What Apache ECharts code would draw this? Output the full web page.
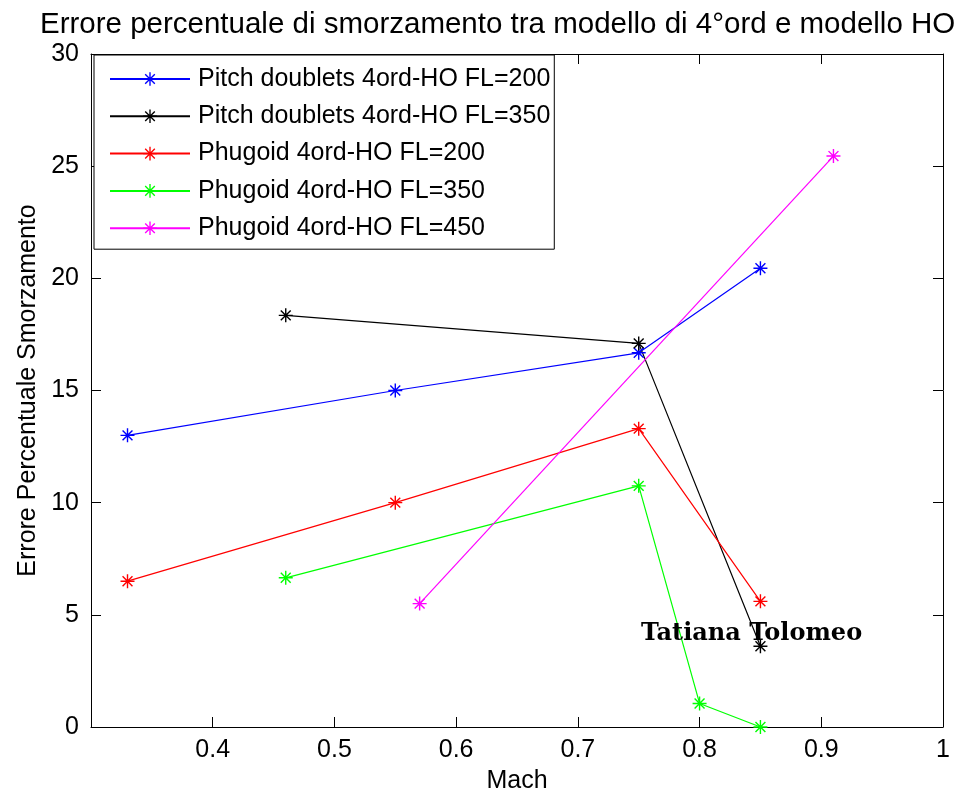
<!DOCTYPE html>
<html>
<head>
<meta charset="utf-8">
<script src="https://cdn.jsdelivr.net/npm/echarts@6/dist/echarts.min.js"></script>
<style>
  html, body { margin: 0; padding: 0; background: #fff; }
  #chart { width: 972px; height: 796px; }
</style>
</head>
<body>
<div id="chart"></div>
<script>
// Mach axis and error axis ranges / ticks
const machRange = [0.3, 1.0];
const machStep = 0.1;
const errRange = [0, 30];
const errStep = 5;

// Series names
const seriesNames = [
  'Pitch doublets 4ord-HO FL=200',
  'Pitch doublets 4ord-HO FL=350',
  'Phugoid 4ord-HO FL=200',
  'Phugoid 4ord-HO FL=350',
  'Phugoid 4ord-HO FL=450'
];
const seriesColors = ['#0000ff', '#000000', '#ff0000', '#00ff00', '#ff00ff'];

// Mach values and percent damping error per series
const pitch200Mach = [0.33, 0.55, 0.75, 0.85];
const pitch200Err  = [13.0, 15.0, 16.68, 20.45];

const pitch350Mach = [0.46, 0.75, 0.85];
const pitch350Err  = [18.35, 17.1, 3.6];

const phug200Mach = [0.33, 0.55, 0.75, 0.85];
const phug200Err  = [6.5, 10.0, 13.3, 5.6];

const phug350Mach = [0.46, 0.75, 0.80, 0.85];
const phug350Err  = [6.65, 10.75, 1.05, 0.0];

const phug450Mach = [0.57, 0.91];
const phug450Err  = [5.5, 25.45];

const machSets = [pitch200Mach, pitch350Mach, phug200Mach, phug350Mach, phug450Mach];
const errSets  = [pitch200Err, pitch350Err, phug200Err, phug350Err, phug450Err];

// Asterisk marker ("*"): four thin bars crossing at the centre
const asterisk = 'path://' +
  'M-1 -10L1 -10L1 10L-1 10Z' +
  'M-10 -1L10 -1L10 1L-10 1Z' +
  'M-6.36 -7.78L7.78 6.36L6.36 7.78L-7.78 -6.36Z' +
  'M7.78 -6.36L-6.36 7.78L-7.78 6.36L6.36 -7.78Z';

const FONT = "'Liberation Sans', Arial, Helvetica, sans-serif";

const series = seriesNames.map((name, i) => ({
  name: name,
  type: 'line',
  data: machSets[i].map((m, j) => [m, errSets[i][j]]),
  symbol: asterisk,
  symbolSize: 14,
  showSymbol: true,
  clip: false,
  color: seriesColors[i],
  lineStyle: { width: 1.2, color: seriesColors[i] },
  itemStyle: { color: seriesColors[i] },
  emphasis: { disabled: true },
  animation: false
}));

const machLabel = v => (Math.abs(v - machRange[0]) < 1e-9 ? '' : String(+v.toFixed(1)));

const baseAxis = {
  axisLine: { show: true, onZero: false, lineStyle: { color: '#000', width: 1 } },
  axisTick: { show: true, inside: true, length: 10, lineStyle: { color: '#000', width: 1 } },
  splitLine: { show: false }
};

const chart = echarts.init(document.getElementById('chart'), null, { renderer: 'canvas' });
chart.setOption({
  animation: false,
  backgroundColor: '#fff',
  textStyle: { fontFamily: FONT },
  title: {
    text: 'Errore percentuale di smorzamento tra modello di 4°ord e modello HO',
    left: 35,
    top: 5,
    textStyle: { fontFamily: FONT, fontSize: 29.5, fontWeight: 'normal', color: '#000' }
  },
  grid: { left: 91, right: 29, top: 54, bottom: 69, containLabel: false, outerBoundsMode: 'none' },
  legend: {
    data: seriesNames,
    orient: 'vertical',
    left: 94,
    top: 55,
    padding: [11, 4, 8, 15],
    itemWidth: 80,
    itemHeight: 17,
    itemGap: 11.3,
    backgroundColor: '#fff',
    borderColor: '#000',
    borderWidth: 1,
    selectedMode: false,
    textStyle: { fontFamily: FONT, fontSize: 25, color: '#000', lineHeight: 26, padding: [0, 0, 0, 3] }
  },
  xAxis: [
    Object.assign({}, baseAxis, {
      type: 'value',
      min: machRange[0],
      max: machRange[1],
      interval: machStep,
      name: 'Mach',
      nameLocation: 'middle',
      nameGap: 42,
      nameTextStyle: { fontFamily: FONT, fontSize: 25, color: '#000' },
      axisLabel: { fontFamily: FONT, fontSize: 25, color: '#000', margin: 11, formatter: machLabel }
    }),
    Object.assign({}, baseAxis, {
      type: 'value',
      position: 'top',
      min: machRange[0],
      max: machRange[1],
      interval: machStep,
      axisLabel: { show: false }
    })
  ],
  yAxis: [
    Object.assign({}, baseAxis, {
      type: 'value',
      min: errRange[0],
      max: errRange[1],
      interval: errStep,
      name: 'Errore Percentuale Smorzamento',
      nameLocation: 'middle',
      nameGap: 50,
      nameTextStyle: { fontFamily: FONT, fontSize: 25, color: '#000' },
      axisLabel: { fontFamily: FONT, fontSize: 25, color: '#000', margin: 12 }
    }),
    Object.assign({}, baseAxis, {
      type: 'value',
      position: 'right',
      min: errRange[0],
      max: errRange[1],
      interval: errStep,
      axisLabel: { show: false }
    })
  ],
  graphic: [{
    type: 'text',
    z: 100,
    style: {
      x: 641,
      y: 634,
      text: 'Tatiana Tolomeo',
      font: "bold 24px 'DejaVu Serif', 'Liberation Serif', serif",
      fill: '#000',
      verticalAlign: 'middle',
      align: 'left'
    }
  }],
  series: series
});
</script>
</body>
</html>
